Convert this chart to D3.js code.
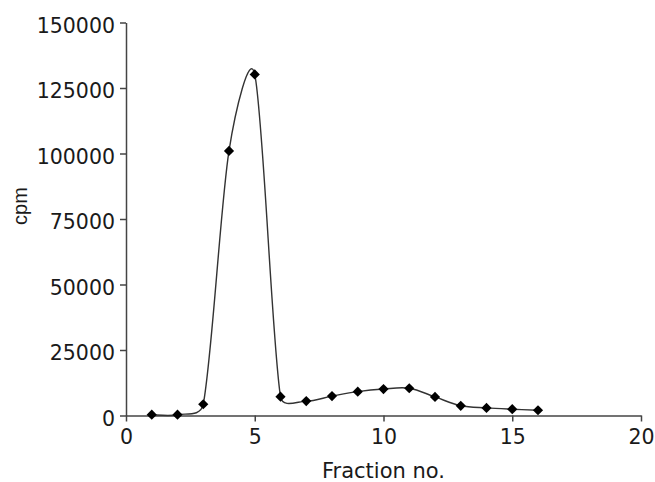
<!DOCTYPE html>
<html>
<head>
<meta charset="utf-8">
<script src="https://cdn.jsdelivr.net/npm/d3@7"></script>
<style>
  body { margin: 0; background: #fff; }
  text { font-family: "DejaVu Sans", sans-serif; fill: #1a1a1a; }
</style>
</head>
<body>
<div id="chart"></div>
<script>
// 데이터
const fractions = [1, 2, 3, 4, 5, 6, 7, 8, 9, 10, 11, 12, 13, 14, 15, 16];
const cpmValues = [300, 300, 4300, 101000, 130200, 7200, 5500, 7400, 9100, 10100, 10400, 7100, 3700, 2900, 2400, 2000];
const xTicks = [0, 5, 10, 15, 20];
const yTicks = [0, 25000, 50000, 75000, 100000, 125000, 150000];

const width = 655;
const height = 482;

const svg = d3.select("#chart")
    .append("svg")
    .attr("width", width)
    .attr("height", height);

const data = fractions.map((f, i) => ({ x: f, y: cpmValues[i] }));

// 스케일
const xScale = d3.scaleLinear().domain([0, 20]).range([126, 641]);
const yScale = d3.scaleLinear().domain([0, 150000]).range([415.5, 22.5]);

// 엑셀식 부드러운 곡선 (짧은 구간은 제어점을 줄이고, 긴 구간은 Catmull-Rom 수준으로 제한)
function curveSmooth(context) {
    let pts;
    return {
        areaStart() {}, areaEnd() {},
        lineStart() { pts = []; },
        point(x, y) { pts.push([+x, +y]); },
        lineEnd() {
            const n = pts.length;
            if (!n) return;
            const dist = (a, b) => Math.hypot(b[0] - a[0], b[1] - a[1]);
            const cap = 1 / 6;
            context.moveTo(pts[0][0], pts[0][1]);
            for (let i = 0; i < n - 1; i++) {
                const p0 = pts[Math.max(i - 1, 0)], p1 = pts[i], p2 = pts[i + 1], p3 = pts[Math.min(i + 2, n - 1)];
                const d01 = dist(p0, p1), d12 = dist(p1, p2), d23 = dist(p2, p3);
                const f1 = Math.min(cap, (d01 + d12) ? 0.5 * d12 / (d01 + d12) : 0);
                const f2 = Math.min(cap, (d12 + d23) ? 0.5 * d12 / (d12 + d23) : 0);
                const c1 = [p1[0] + (p2[0] - p0[0]) * f1, p1[1] + (p2[1] - p0[1]) * f1];
                const c2 = [p2[0] - (p3[0] - p1[0]) * f2, p2[1] - (p3[1] - p1[1]) * f2];
                context.bezierCurveTo(c1[0], c1[1], c2[0], c2[1], p2[0], p2[1]);
            }
        }
    };
}

// X 축
const xAxis = svg.append("g")
    .attr("transform", `translate(0, ${yScale(0)})`)
    .call(d3.axisBottom(xScale).tickValues(xTicks).tickFormat(d3.format("d"))
        .tickSize(6).tickSizeOuter(0).tickPadding(7));

// Y 축
const yAxis = svg.append("g")
    .attr("transform", `translate(${xScale(0)},0)`)
    .call(d3.axisLeft(yScale).tickValues(yTicks).tickFormat(d3.format("d"))
        .tickSize(6).tickSizeOuter(0).tickPadding(5));

[xAxis, yAxis].forEach(g => {
    g.select(".domain").attr("stroke", "#444").attr("stroke-width", 1.5);
    g.selectAll(".tick line").attr("stroke", "#444").attr("stroke-width", 1.5);
    g.selectAll(".tick text")
        .style("font-family", "'DejaVu Sans', sans-serif")
        .style("font-size", "20.5px")
        .attr("fill", "#1a1a1a");
});
yAxis.selectAll(".tick text").attr("dy", "0.47em");
xAxis.selectAll(".tick text").attr("dy", "0.74em");

// 곡선
const line = d3.line()
    .x(d => xScale(d.x))
    .y(d => yScale(d.y))
    .curve(curveSmooth);

svg.append("path")
    .datum(data)
    .attr("fill", "none")
    .attr("stroke", "#333")
    .attr("stroke-width", 1.4)
    .attr("d", line);

// 마커 (다이아몬드)
svg.selectAll(".marker")
    .data(data)
    .enter()
    .append("path")
    .attr("class", "marker")
    .attr("transform", d => `translate(${xScale(d.x)},${yScale(d.y)}) rotate(45)`)
    .attr("d", d3.symbol(d3.symbolSquare, 52)())
    .attr("fill", "#000");

// 축 제목
svg.append("text")
    .attr("x", (xScale(0) + xScale(20)) / 2)
    .attr("y", 478)
    .attr("text-anchor", "middle")
    .style("font-size", "21px")
    .text("Fraction no.");

svg.append("text")
    .attr("transform", "translate(27, 206) rotate(-90)")
    .attr("text-anchor", "middle")
    .style("font-family", "'Liberation Sans', sans-serif")
    .style("font-size", "20px")
    .text("cpm");
</script>
</body>
</html>
